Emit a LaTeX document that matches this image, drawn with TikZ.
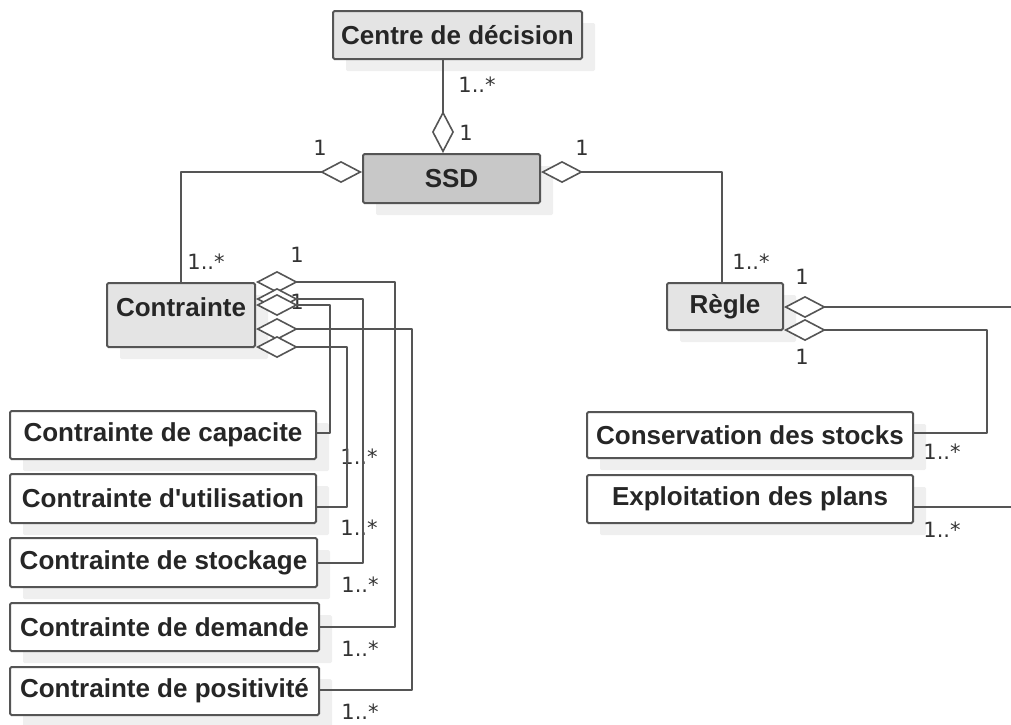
\documentclass[tikz,border=0pt]{standalone}
\usepackage{fontspec}
\setmainfont{Liberation Sans}
\newfontfamily\labelfont{DejaVu Sans}
\usetikzlibrary{arrows.meta,shadows}
\definecolor{linegray}{HTML}{555555}
\definecolor{shadowgray}{HTML}{EFEFEF}
\definecolor{lightfill}{HTML}{E4E4E4}
\definecolor{darkfill}{HTML}{C8C8C8}
\tikzset{
  classbox/.style={draw=linegray, line width=2pt, rounded corners=1.5pt, fill=white,
    inner sep=0pt, font=\bfseries\fontsize{26}{30}\selectfont, text=black!85,
    general shadow={fill=shadowgray, shadow xshift=13pt, shadow yshift=-12pt}},
  mult/.style={font=\labelfont\fontsize{21}{25}\selectfont, text=black!80, inner sep=0pt},
  conn/.style={draw=linegray, line width=2pt, line join=round},
  agg/.style={conn, -{Diamond[open, length=42pt, width=22pt, fill=white, line width=1.6pt]}},
}
\begin{document}
\begin{tikzpicture}[x=1pt, y=-1pt]
\useasboundingbox (0,0) rectangle (1011,724);
% classes
\node[classbox, fill=lightfill, minimum width=249pt, minimum height=48pt] (centre) at (457.5,35) {Centre de d\'ecision};
\node[classbox, fill=darkfill, minimum width=177pt, minimum height=49pt] (ssd) at (451.5,178.5) {SSD};
\node[classbox, fill=lightfill, minimum width=148pt, minimum height=64pt, text height=14pt, text depth=12pt] (contrainte) at (181,315) {Contrainte};
\node[classbox, fill=lightfill, minimum width=116pt, minimum height=47pt] (regle) at (725,306.5) {R\`egle};
\node[classbox, minimum width=306pt, minimum height=48pt] (cap) at (163,435) {Contrainte de capacite};
\node[classbox, minimum width=306pt, minimum height=49pt] (util) at (163,498.5) {Contrainte d\textquotesingle utilisation};
\node[classbox, minimum width=307pt, minimum height=49pt] (stock) at (163.5,562.5) {Contrainte de stockage};
\node[classbox, minimum width=309pt, minimum height=48pt] (dem) at (164.5,627) {Contrainte de demande};
\node[classbox, minimum width=309pt, minimum height=48pt] (pos) at (164.5,691) {Contrainte de positivit\'e};
\node[classbox, minimum width=326pt, minimum height=46pt] (cons) at (750,435) {Conservation des stocks};
\node[classbox, minimum width=326pt, minimum height=48pt] (expl) at (750,499) {Exploitation des plans};
% multiplicities
\node[mult] (m1) at (477,85) {1..*};
\node[mult] (m2) at (466,133) {1};
\node[mult] (m3) at (320,148) {1};
\node[mult] (m4) at (582,148) {1};
\node[mult] (m5) at (206,262) {1..*};
\node[mult] (m6) at (751,262) {1..*};
\node[mult] (m7) at (802,277) {1};
\node[mult] (m8) at (802,357) {1};
\node[mult] (m9) at (942,452) {1..*};
\node[mult] (m10) at (942,530) {1..*};
\node[mult] (c1) at (297,255) {1};
\node[mult] (c4) at (297,302) {1};
\node[mult] (k1) at (359,457) {1..*};
\node[mult] (k2) at (359,528) {1..*};
\node[mult] (k3) at (360,585) {1..*};
\node[mult] (k4) at (360,649) {1..*};
\node[mult] (k5) at (360,712) {1..*};
% connectors
\draw[agg] (centre.south -| 443,0) -- (ssd.north -| 443,0);
\draw[agg] (contrainte.north -| 181,0) |- (ssd.west |- 0,172);
\draw[agg] (regle.north -| 722,0) |- (ssd.east |- 0,172);
\draw[agg] (dem.east |- 0,627) -| (395,282) -- (contrainte.east |- 0,282);
\draw[agg] (stock.east |- 0,563) -| (363,299) -- (contrainte.east |- 0,299);
\draw[agg] (cap.east |- 0,433) -| (330,305) -- (contrainte.east |- 0,305);
\draw[agg] (pos.east |- 0,690) -| (412,329) -- (contrainte.east |- 0,329);
\draw[agg] (util.east |- 0,507) -| (347,347) -- (contrainte.east |- 0,347);
\coordinate (rout1) at (1011,307);
\coordinate (rout2) at (1011,507);
\draw[agg] (rout1) -- (regle.east |- 0,307);
\draw[agg] (cons.east |- 0,433) -| (987,330) -- (regle.east |- 0,330);
\draw[conn] (expl.east |- 0,507) -- (rout2);
\end{tikzpicture}
\end{document}
